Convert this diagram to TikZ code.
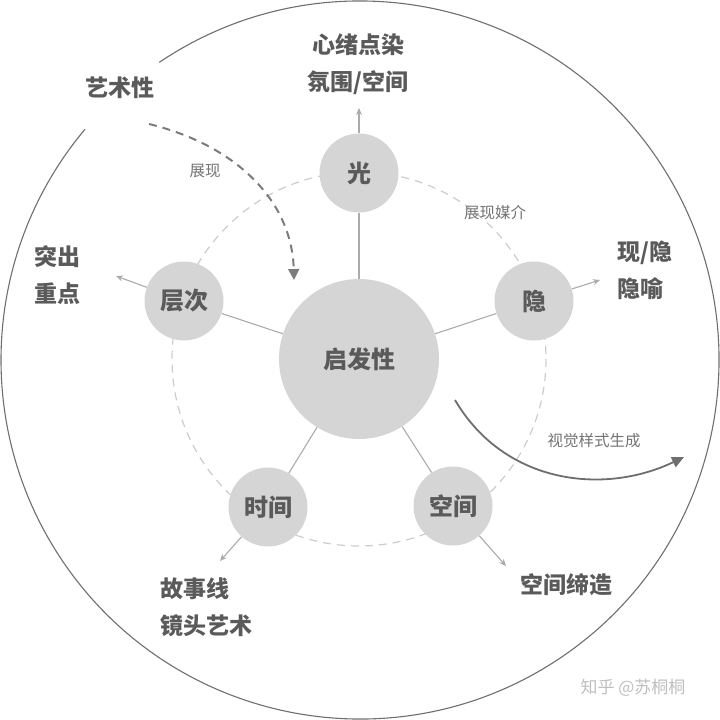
\documentclass[tikz,border=0pt]{standalone}
\usepackage{fontspec}
\setmainfont{Noto Sans CJK SC}
\usetikzlibrary{arrows.meta}
\definecolor{nodegray}{HTML}{D5D5D5}
\definecolor{textgray}{HTML}{5A5A5A}
\definecolor{linegray}{HTML}{ABABAB}
\definecolor{dashgray}{HTML}{CCCCCC}
\definecolor{arcgray}{HTML}{6E6E6E}
\tikzset{
  hub/.style={circle,fill=nodegray,minimum size=160pt,inner sep=0pt,text=textgray,font=\bfseries\fontsize{24}{28}\selectfont},
  topic/.style={circle,fill=nodegray,minimum size=79pt,inner sep=0pt,text=textgray,font=\bfseries\fontsize{24}{28}\selectfont},
  biglabel/.style={text=textgray,inner sep=0pt,font=\bfseries\fontsize{23}{37}\selectfont},
  smalllabel/.style={text=textgray!85,inner sep=0pt,font=\fontsize{15.5}{18}\selectfont},
  spoke/.style={draw=linegray,line width=1.1pt},
  outarrow/.style={draw=linegray,line width=1.1pt,-{Stealth[length=7pt,width=6pt]}}
}
\begin{document}
\begin{tikzpicture}[x=1pt,y=-1pt]
\useasboundingbox (0,0) rectangle (720,720);
% outer ring, open behind the label
\draw[arcgray,line width=1.1pt] (360,360) ++(-124:359) arc[start angle=-124,end angle=220,radius=359];
% dashed ring through the topics
\draw[dashgray,line width=1.2pt,dash pattern=on 8pt off 6pt] (359,359) circle[radius=187];
%
\node[hub] (qi) at (359,359) {启发性};
\node[topic] (guang) at (359,173) {光};
\node[topic] (yin) at (534,301) {隐};
\node[topic] (ceng) at (184,301) {层次};
\node[topic] (shi) at (268,507) {时间};
\node[topic] (kong) at (453,506) {空间};
%
\foreach \Target in {guang,yin,ceng,shi,kong}
\draw[spoke] (qi) -- (\Target);
%
\coordinate (guangout) at (359,108);
\coordinate (yinout) at (600,280);
\coordinate (cengout) at (116,276);
\coordinate (shiout) at (220,561);
\coordinate (kongout) at (506,566);
\foreach \Source/\Target in {%
	guang/guangout,
	yin/yinout,
	ceng/cengout,
	shi/shiout,
	kong/kongout%
    }
\draw[outarrow] (\Source) to (\Target);
%
\node[biglabel,align=center] (mood) at (358,64) {心绪点染\\氛围/空间};
\node[biglabel] (art) at (120,88) {艺术性};
\node[biglabel,align=left,anchor=west] (focus) at (34,275) {突出\\重点};
\node[biglabel,align=left,anchor=west] (hint) at (617,270) {现/隐\\隐喻};
\node[biglabel,align=left,anchor=west] (story) at (160,607) {故事线\\镜头艺术};
\node[biglabel] (build) at (566,585) {空间缔造};
%
\node[smalllabel] (show) at (205,171) {展现};
\node[smalllabel] (media) at (495,213) {展现媒介};
\node[smalllabel] (style) at (594,441) {视觉样式生成};
%
\coordinate (artstart) at (149,124);
\coordinate (arttip) at (294,280);
\draw[arcgray!90,line width=2pt,dash pattern=on 8pt off 6pt,-{Triangle[length=11pt,width=11pt]}]
  (artstart) .. controls (235,145) and (292,200) .. (arttip);
%
\coordinate (stylestart) at (455,400);
\coordinate (styletip) at (684,457);
\draw[arcgray,line width=1.8pt,-{Triangle[length=12pt,width=11pt]}]
  (stylestart) .. controls (505,485) and (605,495) .. (styletip);
%
\node[text=black!25,inner sep=0pt,font=\fontsize{17}{20}\selectfont] (mark) at (633,688) {知乎 @苏桐桐};
\end{tikzpicture}
\end{document}
